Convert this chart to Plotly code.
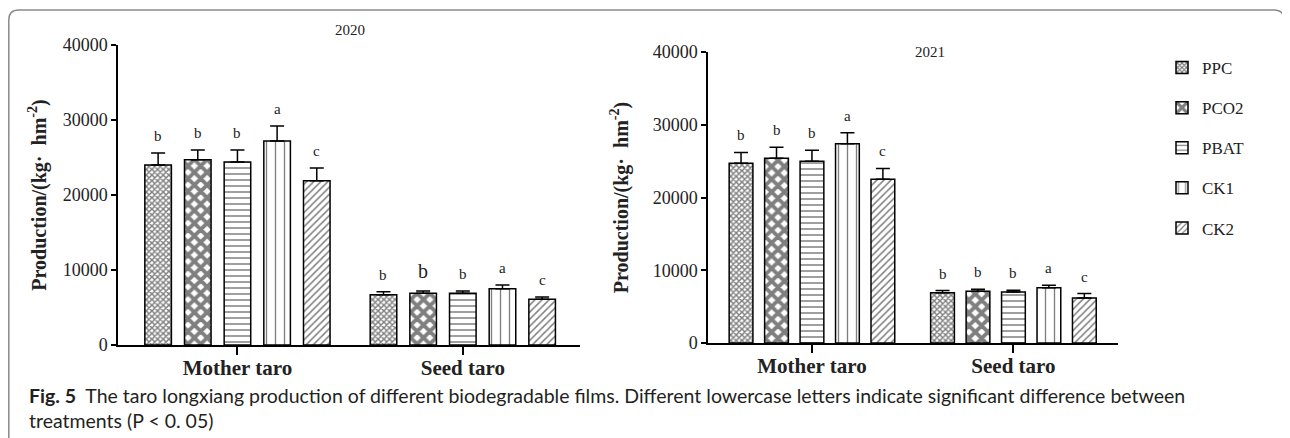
import plotly.graph_objects as go

treatments = ["PPC", "PCO2", "PBAT", "CK1", "CK2"]
parts = ["Mother taro", "Seed taro"]

mother_2020 = [24000, 24700, 24400, 27200, 21900]
mother_2020_err = [1600, 1300, 1600, 2000, 1700]
seed_2020 = [6700, 6900, 6900, 7500, 6100]
seed_2020_err = [400, 300, 300, 500, 300]
mother_2020_letters = ["b", "b", "b", "a", "c"]
seed_2020_letters = ["b", "b", "b", "a", "c"]

mother_2021 = [24700, 25400, 25000, 27400, 22500]
mother_2021_err = [1500, 1500, 1500, 1500, 1500]
seed_2021 = [6900, 7100, 7000, 7600, 6200]
seed_2021_err = [300, 300, 250, 350, 600]
mother_2021_letters = ["b", "b", "b", "a", "c"]
seed_2021_letters = ["b", "b", "b", "a", "c"]

y_ticks = [0, 10000, 20000, 30000, 40000]

patterns = [
    dict(shape="x", size=4, solidity=0.6),
    dict(shape="x", size=9, solidity=0.68),
    dict(shape="-", size=6, solidity=0.25),
    dict(shape="|", size=9, solidity=0.15),
    dict(shape="/", size=5, solidity=0.3),
]

SERIF = "Liberation Serif, Times New Roman, serif"
SANS = "Lato, Open Sans, sans-serif"
BARGAP = 0.12

# the page is drawn with an 8px body margin; the figure fills the rest
W, H, OFF = 1282, 430, 8


def px(X):
    return (X - OFF) / W


def py(Y):
    return 1 - (Y - OFF) / H


fig = go.Figure()

panels = [
    ("x", "y", mother_2020, mother_2020_err, seed_2020, seed_2020_err,
     mother_2020_letters, seed_2020_letters, False),
    ("x2", "y2", mother_2021, mother_2021_err, seed_2021, seed_2021_err,
     mother_2021_letters, seed_2021_letters, True),
]

annotations = []
for xa, ya, m, me, s, se, ml, sl, show in panels:
    for i, name in enumerate(treatments):
        fig.add_trace(go.Bar(
            x=parts, y=[m[i], s[i]], name=name, xaxis=xa, yaxis=ya,
            legendgroup=name, showlegend=show,
            marker=dict(color="white", line=dict(color="black", width=1.5),
                        pattern=dict(fgcolor="black", bgcolor="white", **patterns[i])),
            error_y=dict(type="data", array=[me[i], se[i]], arrayminus=[0, 0],
                         symmetric=False, color="black", thickness=1.5, width=7),
        ))
        slot = (1 - BARGAP) / len(treatments)
        for k, (val, err, lab) in enumerate([(m[i], me[i], ml[i]), (s[i], se[i], sl[i])]):
            big = (xa == "x" and k == 1 and i == 1)
            annotations.append(dict(
                x=k + (i - 2) * slot, y=val + err, xref=xa, yref=ya,
                text=lab, showarrow=False, xanchor="center", yanchor="bottom", yshift=7,
                font=dict(family=SERIF, size=20 if big else 15, color="#222"),
            ))

cap_font = dict(family=SANS, size=19.5, color="#231f20")
annotations += [
    dict(x=px(350), y=py(30), xref="paper", yref="paper", text="2020",
         xanchor="center", yanchor="middle", showarrow=False,
         font=dict(family=SERIF, size=15, color="#222")),
    dict(x=px(930), y=py(52), xref="paper", yref="paper", text="2021",
         xanchor="center", yanchor="middle", showarrow=False,
         font=dict(family=SERIF, size=15, color="#222")),
    dict(x=px(27), y=py(395), xref="paper", yref="paper", xanchor="left", yanchor="middle",
         text="<b>Fig. 5</b>  The taro longxiang production of different biodegradable films. "
              "Different lowercase letters indicate significant difference between",
         showarrow=False, font=cap_font),
    dict(x=px(27), y=py(420), xref="paper", yref="paper", xanchor="left", yanchor="middle",
         text="treatments (P < 0. 05)", showarrow=False, font=cap_font),
]

ytitle = "<b>Production/(kg·  hm<sup>-2</sup>)</b>"
axis_common = dict(showline=True, linecolor="black", linewidth=1.5, ticks="outside",
                   tickwidth=1.5, tickcolor="black", showgrid=False, zeroline=False,
                   automargin=False)
xtick_font = dict(family=SERIF, size=21, color="#222", weight="bold")
ytick_font = dict(family=SERIF, size=18, color="#222")
ytitle_font = dict(family=SERIF, size=20, color="#222")

fig.update_layout(
    width=W, height=H,
    margin=dict(l=0, r=0, t=0, b=0),
    paper_bgcolor="white", plot_bgcolor="white",
    barmode="group", bargap=BARGAP, bargroupgap=0.33,
    annotations=annotations,
    xaxis=dict(domain=[px(118), px(580)], anchor="y", type="category",
               categoryarray=parts, range=[-0.53, 1.52], ticklen=8,
               ticklabelstandoff=-5, tickfont=xtick_font, **axis_common),
    yaxis=dict(domain=[py(345), py(45)], anchor="x", range=[0, 40000],
               tickvals=y_ticks, tickformat="d", ticklen=5, tickfont=ytick_font,
               title=dict(text=ytitle, standoff=11, font=ytitle_font),
               **axis_common),
    xaxis2=dict(domain=[px(708), px(1118)], anchor="y2", type="category",
                categoryarray=parts, range=[-0.516, 1.519], ticklen=8,
                ticklabelstandoff=-5, tickfont=xtick_font, **axis_common),
    yaxis2=dict(domain=[py(343), py(52)], anchor="x2", range=[0, 40000],
                tickvals=y_ticks, tickformat="d", ticklen=5, tickfont=ytick_font,
                title=dict(text=ytitle, standoff=19, font=ytitle_font),
                **axis_common),
    legend=dict(x=px(1162), y=py(50), xanchor="left", yanchor="top",
                font=dict(family=SERIF, size=17, color="#222"),
                tracegroupgap=15, bgcolor="rgba(0,0,0,0)"),
)

rx, ry = 10 / W, 10 / H
x0, x1, yt, yb = px(8.8), px(1284), py(10), -0.2
fig.add_shape(type="path", xref="paper", yref="paper",
              path=f"M{x0},{yb} L{x0},{yt - ry} Q{x0},{yt} {x0 + rx},{yt} "
                   f"L{x1 - rx},{yt} Q{x1},{yt} {x1},{yt - ry} L{x1},{yb}",
              line=dict(color="#8a8a8a", width=1.5))

fig.write_html("out.html")
